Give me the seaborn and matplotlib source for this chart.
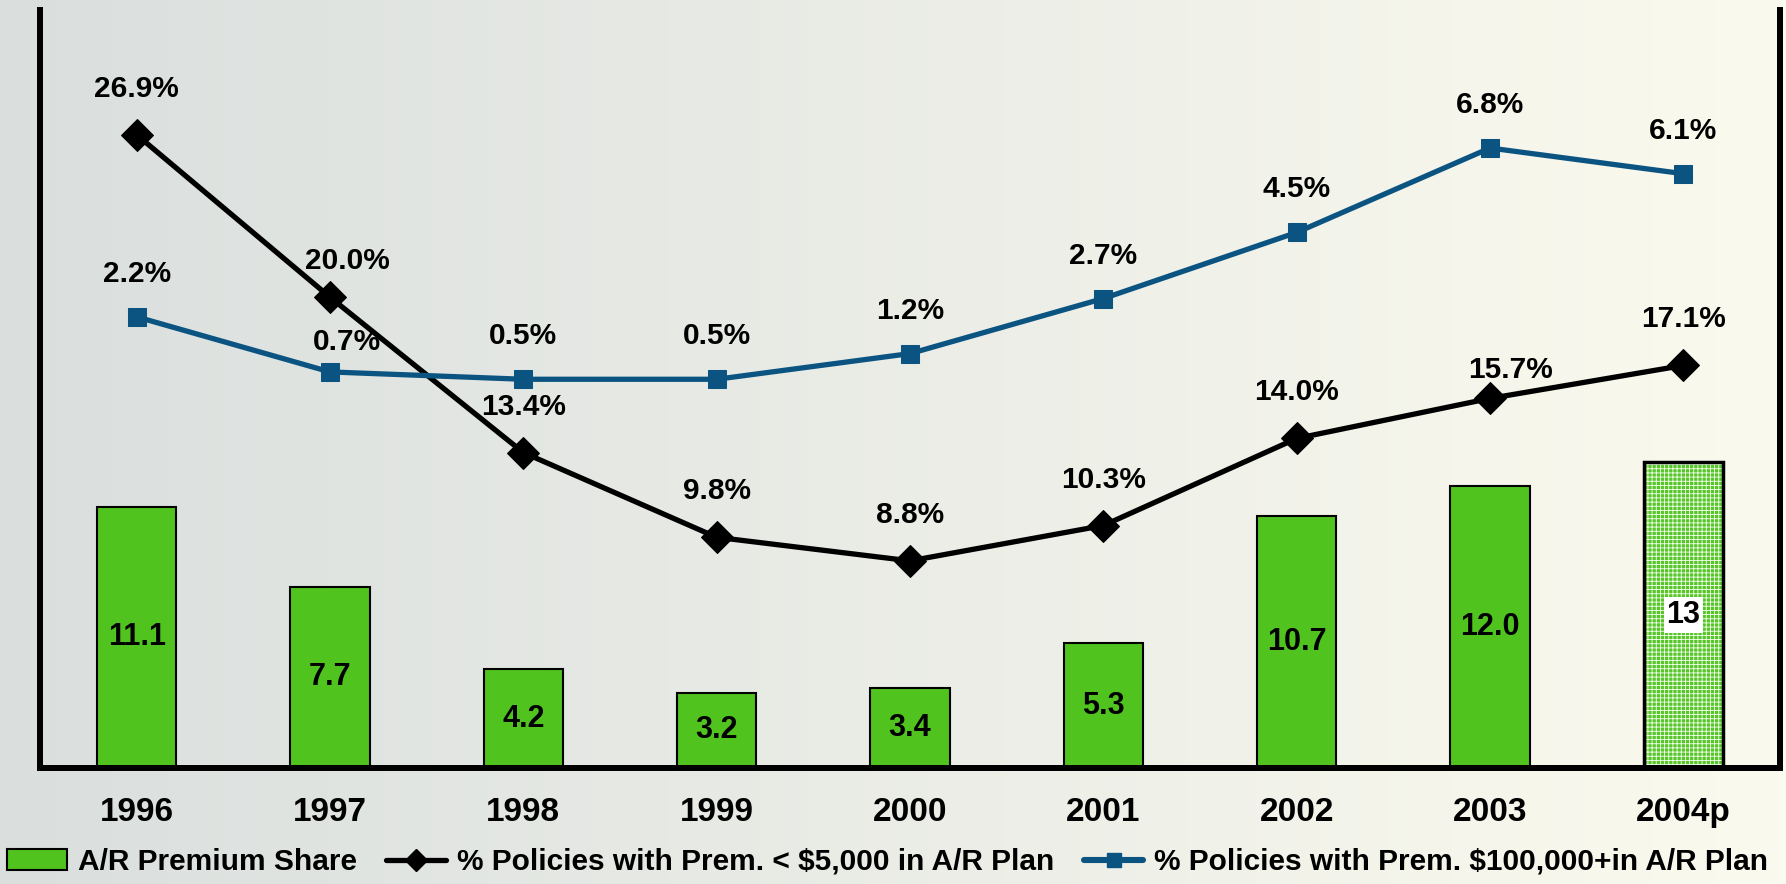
import numpy as np
import pandas as pd
import matplotlib
matplotlib.use("Agg")
import matplotlib.pyplot as plt
import seaborn as sns
from matplotlib.patches import Patch
from matplotlib.lines import Line2D

# --- data ---
years = ["1996", "1997", "1998", "1999", "2000", "2001", "2002", "2003", "2004p"]
ar_share = [11.1, 7.7, 4.2, 3.2, 3.4, 5.3, 10.7, 12.0, 13]
ar_share_labels = ["11.1", "7.7", "4.2", "3.2", "3.4", "5.3", "10.7", "12.0", "13"]
pct_small = [26.9, 20.0, 13.4, 9.8, 8.8, 10.3, 14.0, 15.7, 17.1]
pct_large = [2.2, 0.7, 0.5, 0.5, 1.2, 2.7, 4.5, 6.8, 6.1]

name_bar = "A/R Premium Share"
name_small = "% Policies with Prem. < $5,000 in A/R Plan"
name_large = "% Policies with Prem. $100,000+in A/R Plan"

df = pd.DataFrame({"year": years, "share": ar_share,
                   "small": pct_small, "large": pct_large})

# --- style ---
sns.set_style("white")
plt.rcParams["font.family"] = ["Liberation Sans", "DejaVu Sans"]
plt.rcParams["text.color"] = "black"
plt.rcParams["xtick.color"] = "black"
plt.rcParams["hatch.linewidth"] = 0.6

green = "#50c31f"
blue = "#0b5482"
DPI = 100

fig = plt.figure(figsize=(17.86, 8.84), dpi=DPI)

# faded background (grey-blue on the left to cream on the right)
bg = fig.add_axes([0, 0, 1, 1], zorder=-10)
t = np.linspace(0, 1, 256)
left_c = np.array([218, 223, 222]) / 255
right_c = np.array([251, 250, 238]) / 255
grad = left_c[None, :] * (1 - t[:, None]) + right_c[None, :] * t[:, None]
bg.imshow(grad[None, :, :], aspect="auto", extent=[0, 1, 0, 1])
bg.axis("off")

ax = fig.add_axes([40 / 1786, 1 - 768 / 884, 1740 / 1786, 758 / 884])
ax.patch.set_alpha(0)

# bars
sns.barplot(data=df, x="year", y="share", color=green, width=0.41,
            edgecolor="black", linewidth=1.5, saturation=1, ax=ax, zorder=2)
last = ax.patches[-1]
last.set_facecolor("#58c62a")
last.set_edgecolor("#f4fff0")
last.set_hatch("++++")
last.set_linewidth(0)
ax.bar(len(years) - 1, ar_share[-1], width=0.41, fill=False,
       edgecolor="black", linewidth=2.5, zorder=3)

for i, (v, lab) in enumerate(zip(ar_share, ar_share_labels)):
    kw = {}
    if i == len(years) - 1:
        kw["bbox"] = dict(facecolor="white", edgecolor="none", pad=2)
    ax.text(i, v / 2, lab, ha="center", va="center", fontsize=22,
            fontweight="bold", zorder=4, **kw)

# black line (same scale as bars)
xs = np.arange(len(years))
sns.lineplot(x=xs, y=pct_small, color="black", linewidth=3.8, marker="D",
             markersize=16, markeredgecolor="black", ax=ax, zorder=5)

ax.set_xlim(-0.5, 8.5)
ax.set_ylim(0, 32.2)
ax.set_xticks(xs)
ax.set_xticklabels(years, fontsize=24, fontweight="bold")
ax.tick_params(axis="x", length=0, pad=21)
ax.set_yticks([])
ax.set_xlabel("")
ax.set_ylabel("")

# blue line on its own scale
ax2 = ax.twinx()
sns.lineplot(x=xs, y=pct_large, color=blue, linewidth=3.8, marker="s",
             markersize=13, markeredgecolor=blue, ax=ax2, zorder=5)
ax2.set_ylim(-10.09, 10.56)
ax2.set_yticks([])
ax2.set_ylabel("")

for a in (ax, ax2):
    a.spines["top"].set_visible(False)
    for s in ("left", "right", "bottom"):
        a.spines[s].set_color("black")
        a.spines[s].set_linewidth(4.3)

# value labels, offsets in pixels (dx, dy)
px = 72 / DPI
off_small = {1: (17, 36), 7: (21, 28)}
off_large = {1: (17, 30)}
for i, v in enumerate(pct_small):
    dx, dy = off_small.get(i, (0, 46))
    ax.annotate(f"{v:.1f}%", (i, v), xytext=(dx * px, dy * px),
                textcoords="offset points", ha="center", va="center",
                fontsize=21.5, fontweight="bold", zorder=6)
for i, v in enumerate(pct_large):
    dx, dy = off_large.get(i, (0, 43))
    ax2.annotate(f"{v:.1f}%", (i, v), xytext=(dx * px, dy * px),
                 textcoords="offset points", ha="center", va="center",
                 fontsize=21.5, fontweight="bold", zorder=6)

# legend
handles = [
    Patch(facecolor=green, edgecolor="black", linewidth=1.5),
    Line2D([], [], color="black", linewidth=3.8, marker="D", markersize=11),
    Line2D([], [], color=blue, linewidth=4.4, marker="s", markersize=10),
]
fig.legend(handles, [name_bar, name_small, name_large], loc="center",
           bbox_to_anchor=(0.497, 1 - 862 / 884), ncol=3, frameon=False,
           prop=dict(weight="bold", size=21.5),
           handlelength=2.0, handleheight=0.7, handletextpad=0.35,
           columnspacing=1.0, borderaxespad=0)

fig.savefig("out.png", dpi=DPI)
